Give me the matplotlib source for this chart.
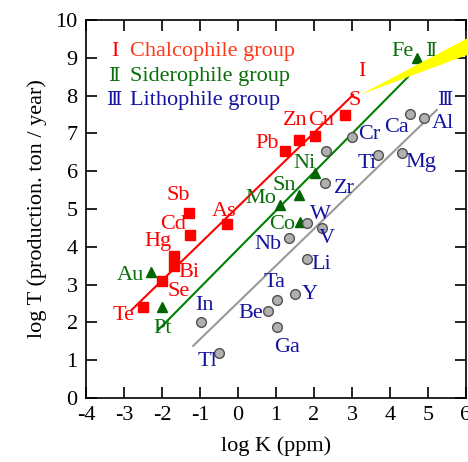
import matplotlib
matplotlib.use('Agg')
import matplotlib.pyplot as plt
import numpy as np

plt.rcParams['font.family'] = ['Liberation Serif', 'DejaVu Serif']
plt.rcParams['axes.unicode_minus'] = False

# chalcophile group (I)
chal_names = ['Te', 'Se', 'Bi', 'Hg', 'Cd', 'Sb', 'As', 'Pb', 'Zn', 'Cu', 'S']
chal_x = [-2.5, -2.0, -1.68, -1.68, -1.27, -1.28, -0.3, 1.23, 1.6, 2.02, 2.82]
chal_y = [2.4, 3.1, 3.5, 3.76, 4.32, 4.9, 4.61, 6.53, 6.82, 6.94, 7.5]
chal_off = [(-0.5, -0.23), (0.43, -0.27), (0.4, -0.17), (-0.42, 0.38), (-0.45, 0.26),
            (-0.29, 0.47), (-0.07, 0.32), (-0.46, 0.19), (-0.1, 0.52), (0.18, 0.4), (0.26, 0.38)]

# siderophile group (II)
sid_names = ['Au', 'Pt', 'Mo', 'Sn', 'Co', 'Ni', 'Fe']
sid_x = [-2.29, -1.99, 1.1, 1.6, 1.63, 2.03, 4.7]
sid_y = [3.33, 2.42, 5.1, 5.37, 4.66, 5.94, 8.99]
sid_off = [(-0.53, -0.09), (0.01, -0.58), (-0.5, 0.18), (-0.38, 0.26), (-0.48, -0.06),
           (-0.29, 0.27), (-0.37, 0.17)]

# lithophile group (III)
lith_names = ['In', 'Tl', 'Be', 'Ta', 'Ga', 'Y', 'Li', 'Nb', 'W', 'V', 'Zr', '',
              'Cr', 'Ti', 'Mg', 'Ca', 'Al']
lith_x = [-0.97, -0.49, 0.8, 1.02, 1.02, 1.49, 1.81, 1.33, 1.81, 2.22, 2.3, 2.31,
          3.0, 3.69, 4.31, 4.53, 4.89]
lith_y = [2.0, 1.18, 2.3, 2.58, 1.89, 2.75, 3.68, 4.22, 4.62, 4.5, 5.7, 6.53,
          6.91, 6.42, 6.49, 7.51, 7.4]
lith_off = [(0.08, 0.46), (-0.32, -0.22), (-0.47, -0.06), (-0.06, 0.47), (0.26, -0.55),
            (0.41, 0.0), (0.37, -0.14), (-0.53, -0.15), (0.37, 0.24), (0.11, -0.28),
            (0.5, -0.17), (0, 0), (0.45, 0.06), (-0.3, -0.22), (0.51, -0.26),
            (-0.36, -0.36), (0.51, -0.13)]

# fitted trend lines (end points)
chal_fit_x = [-2.8, 3.03]
chal_fit_y = [2.33, 8.02]
sid_fit_x = [-2.1, 4.48]
sid_fit_y = [1.8, 8.5]
lith_fit_x = [-1.18, 5.23]
lith_fit_y = [1.38, 7.62]

red = '#ff0000'
green = '#0a6e0a'
blue = '#1414a0'

fig = plt.figure(figsize=(4.68, 4.62), dpi=100)
ax = fig.add_axes([0.1838, 0.1385, 0.8119, 0.8182])

# yellow wedge
wedge = plt.Polygon([(3.21, 8.02), (6.5, 9.76), (6.5, 9.25)], closed=True,
                    facecolor='yellow', edgecolor='none', clip_on=False, zorder=5)
ax.add_patch(wedge)

ax.plot(chal_fit_x, chal_fit_y, color=red, lw=1.5, zorder=2)
ax.plot(sid_fit_x, sid_fit_y, color='#008000', lw=1.5, zorder=2)
ax.plot(lith_fit_x, lith_fit_y, color='#999999', lw=1.5, zorder=2)

ax.plot(chal_x, chal_y, 's', color=red, ms=7, zorder=3)
ax.plot(sid_x, sid_y, '^', color='#006400', ms=7, zorder=3)
ax.plot(lith_x, lith_y, 'o', mfc='#b0b0b0', mec='#505050', mew=1.0, ms=7, zorder=3)

fs = 16
for n, x, y, o in zip(chal_names, chal_x, chal_y, chal_off):
    ax.text(x + o[0], y + o[1], n, color=red, fontsize=fs, ha='center', va='center')
for n, x, y, o in zip(sid_names, sid_x, sid_y, sid_off):
    ax.text(x + o[0], y + o[1], n, color=green, fontsize=fs, ha='center', va='center')
for n, x, y, o in zip(lith_names, lith_x, lith_y, lith_off):
    if n:
        ax.text(x + o[0], y + o[1], n, color=blue, fontsize=fs, ha='center', va='center')

# group marks near the lines
ax.text(3.27, 8.63, 'I', color=red, fontsize=fs, ha='center', va='center')
ax.text(5.09, 9.16, 'Ⅱ', color=green, fontsize=fs - 2, ha='center', va='center', zorder=4)
ax.text(5.47, 7.88, 'Ⅲ', color=blue, fontsize=fs - 2, ha='center', va='center')

# legend text
ax.text(-3.24, 9.16, 'I', color=red, fontsize=fs, ha='center', va='center')
ax.text(-2.84, 9.16, 'Chalcophile group', color='#ff3a1a', fontsize=fs, va='center')
ax.text(-3.24, 8.5, 'Ⅱ', color=green, fontsize=fs - 2, ha='center', va='center')
ax.text(-2.84, 8.5, 'Siderophile group', color=green, fontsize=fs, va='center')
ax.text(-3.24, 7.87, 'Ⅲ', color=blue, fontsize=fs - 2, ha='center', va='center')
ax.text(-2.84, 7.87, 'Lithophile group', color=blue, fontsize=fs, va='center')

ax.set_xlim(-4, 6)
ax.set_ylim(0, 10)
ax.set_xticks(np.arange(-4, 7, 1))
ax.set_yticks(np.arange(0, 11, 1))
ax.tick_params(direction='in', length=8, width=1.2, top=True, right=True,
               labelsize=fs, pad=6)
for s in ax.spines.values():
    s.set_linewidth(1.2)
ax.set_xlabel('log K (ppm)', fontsize=fs, labelpad=8)
ax.set_ylabel('log T (production. ton / year)', fontsize=fs, labelpad=6)

fig.savefig('out.png', dpi=100)
